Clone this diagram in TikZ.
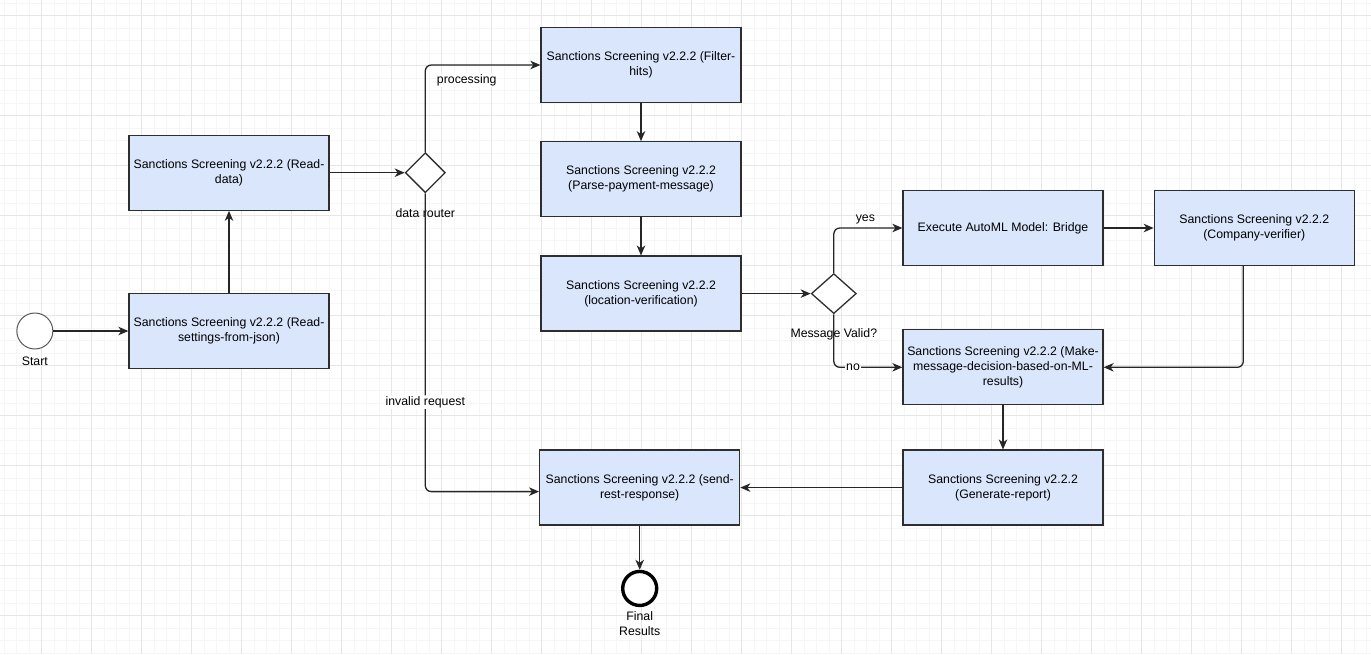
\documentclass[tikz,border=0pt]{standalone}
\usepackage{fontspec}
\setmainfont{Liberation Sans}
\usetikzlibrary{arrows.meta, positioning, shapes.geometric}
\definecolor{azulCaja}{HTML}{D9E6FC}
\definecolor{bordeCaja}{HTML}{2E2E2E}
\definecolor{gridMenor}{HTML}{F6F6F6}
\definecolor{gridMayor}{HTML}{E6E6E6}
\tikzset{
  procBox/.style={
    draw=bordeCaja, line width=1.3pt, fill=azulCaja,
    minimum width=200pt, minimum height=75pt, inner sep=2pt,
    align=center, font=\fontsize{12.3}{15}\selectfont
  },
  gateway/.style={diamond, draw=bordeCaja, line width=1.3pt, fill=white,
    minimum width=40pt, minimum height=40pt, inner sep=0pt},
  startEvent/.style={circle, draw=black!65, line width=1pt, fill=white,
    minimum size=36pt, inner sep=0pt},
  endEvent/.style={circle, draw=black, line width=3.4pt, fill=white,
    minimum size=34pt, inner sep=0pt},
  eventLabel/.style={font=\fontsize{12.3}{15}\selectfont, align=center},
  flow/.style={-{Stealth[length=10pt, width=8.5pt, inset=3pt]},
    line width=1.3pt, black!85, rounded corners=6pt},
  flowLabel/.style={font=\fontsize{12.3}{15}\selectfont, fill=white,
    inner sep=1pt, text=black},
}

\begin{document}
\begin{tikzpicture}[x=1pt, y=-1pt]
  \useasboundingbox (0,0) rectangle (1371,654);
  % background grid
  \fill[white] (0,0) rectangle (1371,654);
  \foreach \gx in {4,16.5,...,1371} \draw[gridMenor, line width=1pt] (\gx,0) -- (\gx,654);
  \foreach \gy in {3,15.5,...,654} \draw[gridMenor, line width=1pt] (0,\gy) -- (1371,\gy);
  \foreach \gx in {41.5,91.5,...,1371} \draw[gridMayor, line width=1pt] (\gx,0) -- (\gx,654);
  \foreach \gy in {15.5,65.5,...,654} \draw[gridMayor, line width=1pt] (0,\gy) -- (1371,\gy);

  \node[procBox] (readSettings) at (229,331) {Sanctions Screening v2.2.2 (Read-\\settings-from-json)};
  \node[procBox, above=82pt of readSettings] (readData) {Sanctions Screening v2.2.2 (Read-\\data)};
  \node[startEvent, left=75pt of readSettings, label={[eventLabel, yshift=-4pt]below:Start}] (start) {};
  \node[gateway, right=75pt of readData, label={[eventLabel, yshift=-12pt]below:data router}] (router) {};

  \node[procBox] (filterHits) at (641,65) {Sanctions Screening v2.2.2 (Filter-\\hits)};
  \node[procBox, below=38pt of filterHits] (parseMsg) {Sanctions Screening v2.2.2\\(Parse-payment-message)};
  \node[procBox, below=38pt of parseMsg] (locVerif) {Sanctions Screening v2.2.2\\(location-verification)};
  \node[gateway, minimum width=45pt, right=69pt of locVerif, label={[eventLabel, yshift=-11pt]below:Message Valid?}] (valid) {};

  \node[procBox] (automl) at (1003,228) {Execute AutoML Model: Bridge};
  \node[procBox, right=50pt of automl] (compVerif) {Sanctions Screening v2.2.2\\(Company-verifier)};
  \node[procBox, below=63pt of automl] (decision) {Sanctions Screening v2.2.2 (Make-\\message-decision-based-on-ML-\\results)};
  \node[procBox, below=44pt of decision] (report) {Sanctions Screening v2.2.2\\(Generate-report)};
  \node[procBox, left=162pt of report] (restResp) {Sanctions Screening v2.2.2 (send-\\rest-response)};
  \node[endEvent, below=44pt of restResp, label={[eventLabel, yshift=-1pt]below:Final\\Results}] (finish) {};

  \draw[flow] (start) -- (readSettings);
  \draw[flow] (readSettings) -- (readData);
  \draw[flow] (readData) -- (router);
  \draw[flow] (router.north) |- node[flowLabel, below, pos=0.68, yshift=-8pt]{processing} (filterHits.west);
  \draw[flow] (router.south) |- node[flowLabel, pos=0.35]{invalid request} ([yshift=-4pt]restResp.west);
  \draw[flow] (filterHits) -- (parseMsg);
  \draw[flow] (parseMsg) -- (locVerif);
  \draw[flow] (locVerif) -- (valid);
  \draw[flow] (valid.north) |- node[flowLabel, above, pos=0.73, yshift=2pt]{yes} (automl.west);
  \draw[flow] (valid.south) |- node[flowLabel, pos=0.64]{no} (decision.west);
  \draw[flow] (automl) -- (compVerif);
  \draw[flow] ([xshift=-11pt]compVerif.south) |- (decision.east);
  \draw[flow] (decision) -- (report);
  \draw[flow] (report) -- (restResp);
  \draw[flow] (restResp) -- (finish);
\end{tikzpicture}
\end{document}
